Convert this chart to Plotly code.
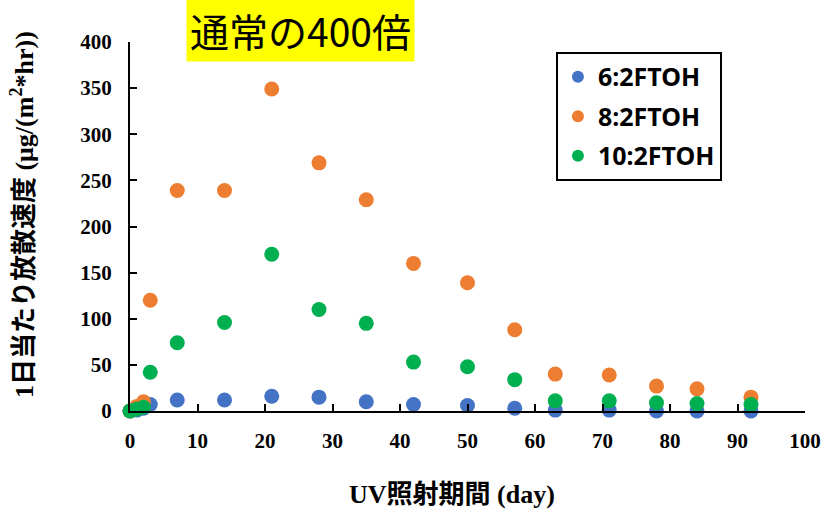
import plotly.graph_objects as go

days = [0, 1, 2, 3, 7, 14, 21, 28, 35, 42, 50, 57, 63, 71, 78, 84, 92]
ftoh_6_2 = [0, 1, 3, 7, 12, 12, 16, 15, 10, 7, 6, 3, 1, 1, 0, 0, 0]
ftoh_8_2 = [0, 5, 10, 120, 239, 239, 349, 269, 229, 160, 139, 88, 40, 39, 27, 24, 15]
ftoh_10_2 = [0, 2, 4, 42, 74, 96, 170, 110, 95, 53, 48, 34, 11, 11, 9, 8, 7]

series_names = ["6:2FTOH", "8:2FTOH", "10:2FTOH"]
series_values = [ftoh_6_2, ftoh_8_2, ftoh_10_2]
colors = ["#4472C4", "#ED7D31", "#00B050"]

x_ticks = [0, 10, 20, 30, 40, 50, 60, 70, 80, 90, 100]
y_ticks = [0, 50, 100, 150, 200, 250, 300, 350, 400]

serif = "Liberation Serif, 'Noto Sans CJK JP', serif"

fig = go.Figure()
for name, vals, col in zip(series_names, series_values, colors):
    fig.add_trace(go.Scatter(
        x=days, y=vals, mode="markers", name=name, legendgroup=name,
        marker=dict(color=col, size=15, line=dict(width=0)),
        cliponaxis=False,
    ))

fig.update_layout(
    width=826, height=510,
    margin=dict(l=130, r=21, t=42, b=99, autoexpand=False),
    paper_bgcolor="white", plot_bgcolor="white",
    showlegend=True,
    legend=dict(
        x=0.631, y=0.973, xanchor="left", yanchor="top",
        bordercolor="black", borderwidth=2, bgcolor="white",
        font=dict(family="'Noto Sans', sans-serif", size=25, color="black", weight="bold"),
        tracegroupgap=4, itemsizing="constant",
        entrywidth=150, entrywidthmode="pixels",
    ),
    xaxis=dict(
        range=[0, 100], tickvals=x_ticks, ticks="inside", ticklen=7, tickwidth=2,
        tickcolor="black", showline=True, linecolor="black", linewidth=2,
        showgrid=False, zeroline=False, ticklabelstandoff=10,
        tickfont=dict(family=serif, size=21, color="black", weight="bold"),
    ),
    yaxis=dict(
        range=[0, 400], tickvals=y_ticks, ticks="inside", ticklen=7, tickwidth=2,
        tickcolor="black", showline=True, linecolor="black", linewidth=2,
        showgrid=False, zeroline=False, ticklabelstandoff=12,
        tickfont=dict(family=serif, size=21, color="black", weight="bold"),
    ),
    annotations=[
        dict(
            text="通常の400倍", xref="paper", yref="paper", x=0.0826, y=1.0325,
            xanchor="left", yanchor="middle", showarrow=False,
            bgcolor="#FFFF00", borderpad=3,
            font=dict(family="'Noto Sans CJK JP', sans-serif", size=39, color="black"),
        ),
        dict(
            text="UV照射期間 (day)", xref="paper", yref="paper", x=0.477, y=-0.2276,
            xanchor="center", yanchor="middle", showarrow=False,
            font=dict(family=serif, size=26, color="black", weight="bold"),
        ),
        dict(
            text="1日当たり放散速度 (μg/(m<sup>2</sup>*hr))", xref="paper", yref="paper",
            x=-0.16, y=0.531, xanchor="center", yanchor="middle", showarrow=False,
            textangle=-90,
            font=dict(family=serif, size=26, color="black", weight="bold"),
        ),
    ],
)

fig.write_html("out.html", config={"displayModeBar": False},
               post_script="document.body.style.margin='0';")
